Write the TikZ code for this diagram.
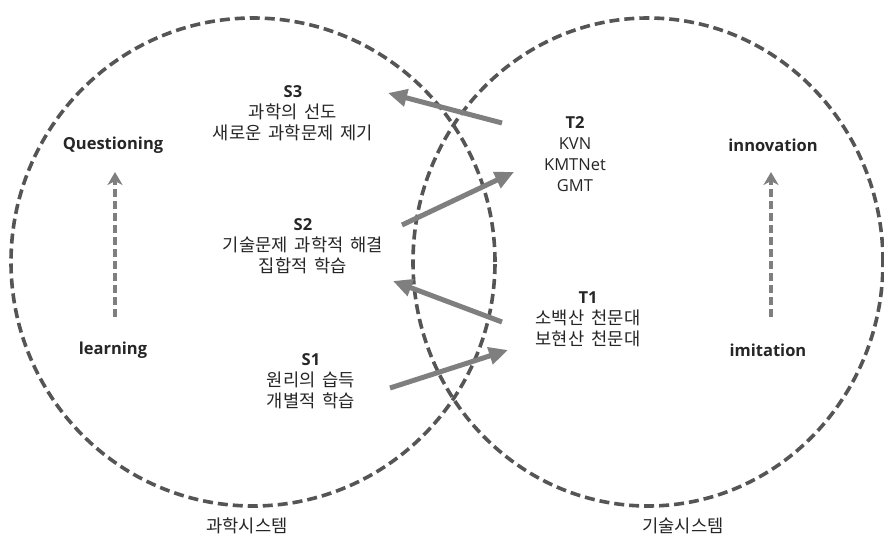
\documentclass[tikz,border=0pt]{standalone}
\usepackage{fontspec}
\setmainfont{Open Sans}
\newfontfamily\kr[Scale=1.07,WordSpace=1.8]{Noto Sans CJK KR}
\usetikzlibrary{arrows.meta}
\definecolor{circ}{HTML}{555555}
\definecolor{arr}{HTML}{7F7F7F}
\definecolor{ink}{HTML}{262626}
\begin{document}
\begin{tikzpicture}[x=1pt,y=-1pt,
  sysline/.style={draw=circ, line width=3.6pt, dash pattern=on 10pt off 5pt},
  flowarrow/.style={draw=arr, line width=5pt, -{Triangle[length=19pt,width=17pt]}},
  riseline/.style={draw=arr, line width=3.6pt, dash pattern=on 8pt off 4pt, -{Stealth[length=13pt,width=15pt,inset=4pt]}},
  txt/.style={font=\fontsize{16.5}{21}\selectfont, align=center, text=ink, inner sep=0pt},
  btxt/.style={txt, font=\fontsize{16.5}{21}\selectfont\bfseries},
]
\useasboundingbox (0,0) rectangle (884,536);
\fill[white] (0,0) rectangle (884,536);
% system circles
\draw[sysline] (253,262) ellipse [x radius=242pt, y radius=244pt];
\draw[sysline] (648,262) ellipse [x radius=235pt, y radius=244pt];
% texts
\node[txt] (s3) at (293,113) {\textbf{S3}\\{\kr 과학의 선도}\\{\kr 새로운 과학문제 제기}};
\node[txt] (t2) at (575,154) {\textbf{T2}\\KVN\\KMTNet\\GMT};
\node[txt] (s2) at (303,246) {\textbf{S2}\\{\kr 기술문제 과학적 해결}\\{\kr 집합적 학습}};
\node[txt] (t1) at (588,319) {\textbf{T1}\\{\kr 소백산 천문대}\\{\kr 보현산 천문대}};
\node[txt] (s1) at (311,381) {\textbf{S1}\\{\kr 원리의 습득}\\{\kr 개별적 학습}};
\node[btxt] (q) at (113,145) {Questioning};
\node[btxt] (l) at (113,350) {learning};
\node[btxt] (inn) at (773,145) {innovation};
\node[btxt] (imi) at (768,350) {imitation};
\node[txt] (sci) at (247,526) {\kr 과학시스템};
\node[txt] (tech) at (683,526) {\kr 기술시스템};
% arrow end points
\coordinate (a3s) at (502,123); \coordinate (a3e) at (388,93);
\coordinate (a2s) at (402,225); \coordinate (a2e) at (514,172);
\coordinate (a1s) at (502,322); \coordinate (a1e) at (393,281);
\coordinate (a0s) at (390,388); \coordinate (a0e) at (508,350);
\coordinate (ls) at (115,317); \coordinate (le) at (115,172);
\coordinate (rs) at (771,317); \coordinate (re) at (771,172);
\draw[flowarrow] (a3s) -- (a3e);
\draw[flowarrow] (a2s) -- (a2e);
\draw[flowarrow] (a1s) -- (a1e);
\draw[flowarrow] (a0s) -- (a0e);
\draw[riseline] (ls) -- (le);
\draw[riseline] (rs) -- (re);
\end{tikzpicture}
\end{document}
